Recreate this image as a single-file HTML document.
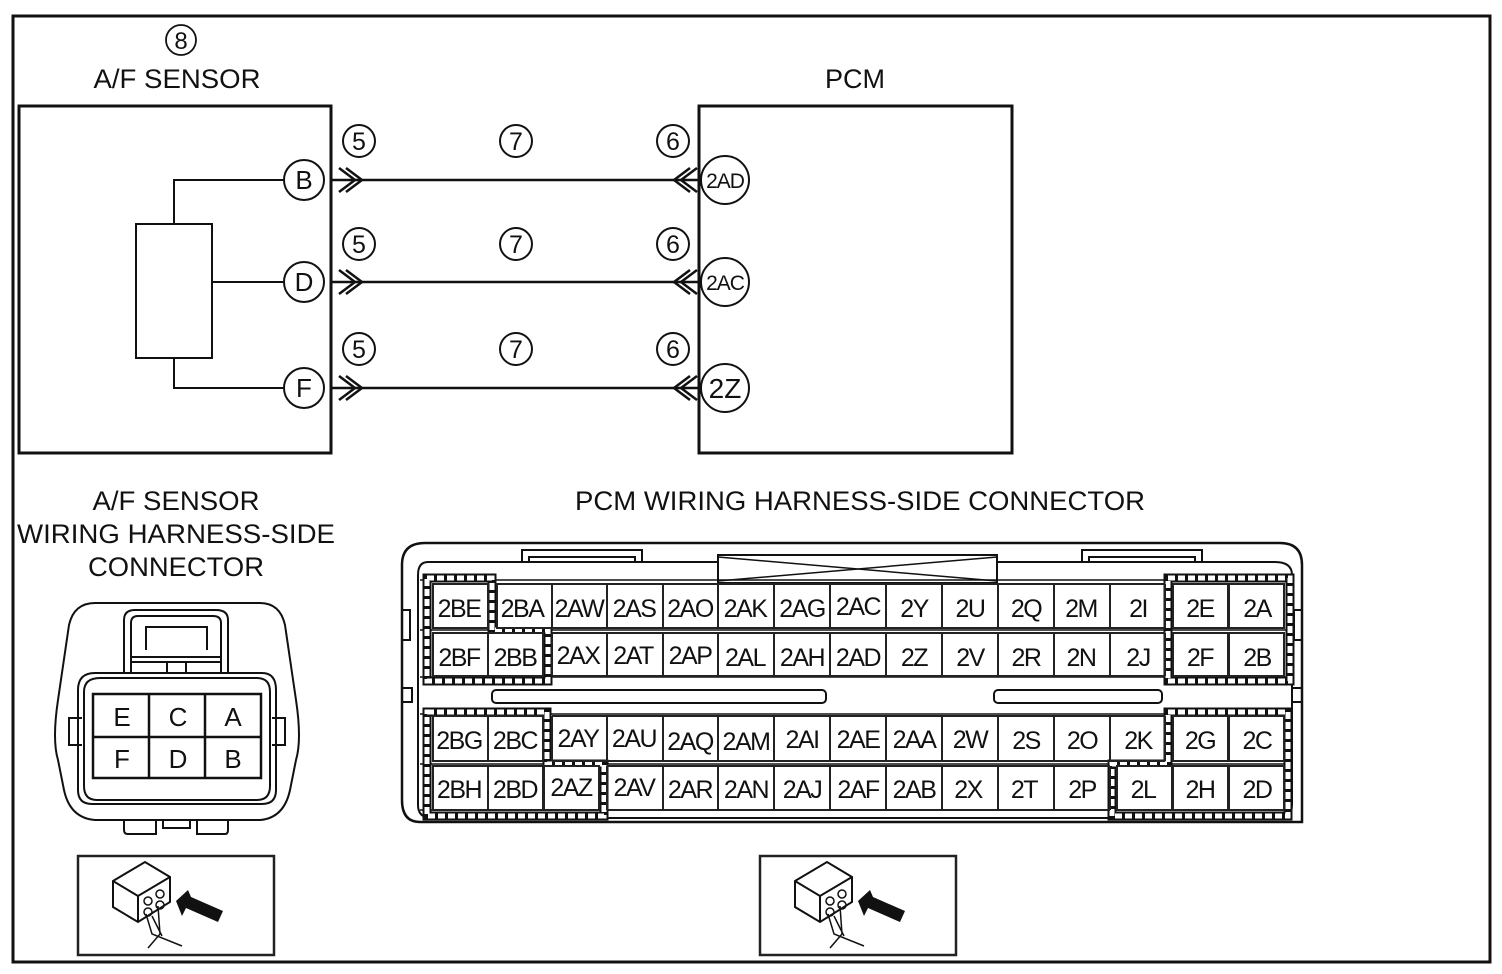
<!DOCTYPE html>
<html><head><meta charset="utf-8"><style>
html,body{margin:0;padding:0;background:#fff;}
svg{display:block;}
text{font-family:"Liberation Sans",sans-serif;fill:#111;}
</style></head><body>
<svg width="1502" height="974" viewBox="0 0 1502 974" xmlns="http://www.w3.org/2000/svg">
<defs>
<g id="icon">
  <rect x="0" y="0" width="196" height="99" fill="#fff" stroke="#222" stroke-width="2.5"/>
  <path d="M35,25 L67,6 L92,21 L92,46 L60,66 L35,51 Z" fill="#fff" stroke="#111" stroke-width="2"/>
  <path d="M35,25 L60,40 L92,21 M60,40 L60,66" fill="none" stroke="#111" stroke-width="2"/>
  <circle cx="70" cy="45" r="4" fill="none" stroke="#111" stroke-width="1.5"/>
  <circle cx="82" cy="38" r="4" fill="none" stroke="#111" stroke-width="1.5"/>
  <circle cx="70" cy="56" r="4" fill="none" stroke="#111" stroke-width="1.5"/>
  <circle cx="82" cy="49" r="4" fill="none" stroke="#111" stroke-width="1.5"/>
  <path d="M68,58 L74,78 L104,90 M80,50 L82,78 L70,92 M74,60 L84,80" fill="none" stroke="#111" stroke-width="1.5"/>
  <path d="M98,45 L110,34 L113,41 L145,55 L140,66 L108,52 L104,60 Z" fill="#111"/>
</g>
</defs>
<rect x="13" y="16" width="1477" height="946" fill="none" stroke="#111" stroke-width="3"/>

<circle cx="181" cy="40" r="15" fill="none" stroke="#111" stroke-width="1.8"/>
<text x="181" y="49" font-size="24" text-anchor="middle">8</text>
<text x="177" y="88" font-size="27" text-anchor="middle" textLength="167" lengthAdjust="spacingAndGlyphs">A/F SENSOR</text>
<text x="855" y="88" font-size="27" text-anchor="middle">PCM</text>

<rect x="19" y="106" width="312" height="347" fill="none" stroke="#111" stroke-width="3"/>
<rect x="136" y="224" width="76" height="134" fill="none" stroke="#111" stroke-width="2"/>
<path d="M174,224 V180 H284 M212,282 H284 M174,358 V388 H284" fill="none" stroke="#111" stroke-width="2"/>
<g stroke="#111" stroke-width="2" fill="#fff">
<circle cx="304" cy="180" r="20"/><circle cx="304" cy="282" r="20"/><circle cx="304" cy="388" r="20"/>
</g>
<text x="304" y="189" font-size="26" text-anchor="middle">B</text>
<text x="304" y="291" font-size="26" text-anchor="middle">D</text>
<text x="304" y="397" font-size="26" text-anchor="middle">F</text>

<rect x="699" y="106" width="313" height="347" fill="none" stroke="#111" stroke-width="3"/>
<g stroke="#111" stroke-width="2" fill="#fff">
<circle cx="725" cy="180" r="24"/><circle cx="725" cy="282" r="24"/><circle cx="725" cy="388" r="24"/>
</g>
<text x="725" y="188" font-size="21" text-anchor="middle" letter-spacing="-1">2AD</text>
<text x="725" y="290" font-size="21" text-anchor="middle" letter-spacing="-1">2AC</text>
<text x="725" y="398" font-size="28" text-anchor="middle">2Z</text>

<g stroke="#111" stroke-width="2.5" fill="none">
<path d="M331,180 H699 M331,282 H699 M331,388 H699"/>
<path d="M339,168 L355,180 L339,192 M346,168 L362,180 L346,192"/>
<path d="M339,270 L355,282 L339,294 M346,270 L362,282 L346,294"/>
<path d="M339,376 L355,388 L339,400 M346,376 L362,388 L346,400"/>
<path d="M690,168 L674,180 L690,192 M697,168 L681,180 L697,192"/>
<path d="M690,270 L674,282 L690,294 M697,270 L681,282 L697,294"/>
<path d="M690,376 L674,388 L690,400 M697,376 L681,388 L697,400"/>
</g>
<g stroke="#111" stroke-width="2" fill="none">
<circle cx="359" cy="141" r="16"/><circle cx="516" cy="141" r="16"/><circle cx="673" cy="141" r="16"/>
<circle cx="359" cy="244" r="16"/><circle cx="516" cy="244" r="16"/><circle cx="673" cy="244" r="16"/>
<circle cx="359" cy="349" r="16"/><circle cx="516" cy="349" r="16"/><circle cx="673" cy="349" r="16"/>
</g>
<g font-size="25" text-anchor="middle">
<text x="359" y="150">5</text><text x="516" y="150">7</text><text x="673" y="150">6</text>
<text x="359" y="253">5</text><text x="516" y="253">7</text><text x="673" y="253">6</text>
<text x="359" y="358">5</text><text x="516" y="358">7</text><text x="673" y="358">6</text>
</g>

<g font-size="27" text-anchor="middle">
<text x="176" y="510" textLength="167" lengthAdjust="spacingAndGlyphs">A/F SENSOR</text>
<text x="176" y="543" textLength="318" lengthAdjust="spacingAndGlyphs">WIRING HARNESS-SIDE</text>
<text x="176" y="576" textLength="176" lengthAdjust="spacingAndGlyphs">CONNECTOR</text>
<text x="860" y="510" textLength="570" lengthAdjust="spacingAndGlyphs">PCM WIRING HARNESS-SIDE CONNECTOR</text>
</g>

<g fill="none" stroke="#111" stroke-width="2">
<path d="M95,603 H260 Q280,603 285,625 L296,700 Q302,740 296,760 L290,790 Q284,818 260,820 H95 Q70,818 64,790 L58,760 Q52,740 58,700 L69,625 Q74,603 95,603 Z"/>
<path d="M82,718 H69 V745 H82 M272,718 H285 V745 H272"/>
<path d="M95,673 H262 Q276,673 276,690 V790 Q276,804 262,804 H92 Q78,804 78,790 V690 Q78,673 95,673 Z"/>
<path d="M100,678 H257 Q270,678 270,692 V786 Q270,800 257,800 H97 Q84,800 84,786 V692 Q84,678 100,678 Z"/>
<path d="M124,673 V620 Q124,610 135,610 H216 Q228,610 228,620 V673"/>
<path d="M131,673 V623 Q131,616 138,616 H213 Q221,616 221,623 V673"/>
<path d="M146,650 V627 H207 V650 M131,657 H221 M131,662 H221 M167,662 V673 M186,662 V673"/>
<rect x="93" y="694" width="168" height="84" stroke-width="2.5"/>
<path d="M149,694 V778 M205,694 V778 M93,737 H261" stroke-width="2.5"/>
<path d="M124,820 V830 Q124,834 128,834 H156 V820 M163,820 V828 H190 V820 M197,820 V834 H225 Q228,834 228,830 V820"/>
</g>
<g font-size="26" text-anchor="middle">
<text x="122" y="726">E</text><text x="178" y="726">C</text><text x="233" y="726">A</text>
<text x="122" y="768">F</text><text x="178" y="768">D</text><text x="233" y="768">B</text>
</g>

<use href="#icon" x="78" y="856"/>
<use href="#icon" x="760" y="856"/>

<g fill="none" stroke="#111" stroke-width="2">
<path d="M425,543 H1280 Q1302,543 1302,565 V822 H420 Q402,822 402,800 V565 Q402,543 425,543 Z" stroke-width="2.5"/>
<path d="M428,562 H1275 Q1292,562 1292,575 V805 Q1292,818 1278,818 H432 Q418,818 418,805 V575 Q418,562 428,562 Z"/>
<path d="M522,562 V550 H642 V562 M529,562 V557 H635 V562"/>
<path d="M1082,562 V550 H1202 V562 M1089,562 V557 H1195 V562"/>
<rect x="718" y="555" width="279" height="28" fill="#fff"/>
<path d="M718,557 L997,581 M718,581 L997,557" stroke-width="1.5"/>
<path d="M402,610 H410 V640 H402 M402,688 H412 V702 H402 M1302,610 H1294 V640 H1302 M1302,688 H1292 V702 H1302"/>
<rect x="492" y="690" width="334" height="13" rx="4"/>
<rect x="994" y="690" width="168" height="13" rx="4"/>
<path d="M420,580 H1290 M420,630 H1290 M420,677 H1290 M420,714 H1290 M420,764 H1290 M420,810 H1290" stroke-width="1.5"/>
</g>
<g fill="none" stroke-linejoin="miter">
<g stroke="#111" stroke-width="9">
<path d="M427,578 H492 V630 H548 V681 H427 Z"/>
<path d="M1168,578 H1290 V681 H1168 Z"/>
<path d="M427,712 H547 V764 H604 V816 H427 Z"/>
<path d="M1168,712 H1288 V816 H1112 V764 H1168 Z"/>
</g>
<g stroke="#fff" stroke-width="5" stroke-dasharray="7 3">
<path d="M427,578 H492 V630 H548 V681 H427 Z"/>
<path d="M1168,578 H1290 V681 H1168 Z"/>
<path d="M427,712 H547 V764 H604 V816 H427 Z"/>
<path d="M1168,712 H1288 V816 H1112 V764 H1168 Z"/>
</g>
</g>
<g fill="#fff" stroke="#222" stroke-width="2">
<rect x="433" y="584" width="55" height="44"/><rect x="497" y="584" width="55" height="44"/>
<rect x="433" y="633" width="55" height="43"/><rect x="488" y="633" width="55" height="43"/>
<rect x="433" y="716" width="55" height="45"/><rect x="488" y="716" width="55" height="45"/>
<rect x="433" y="766" width="55" height="44"/><rect x="488" y="766" width="55" height="44"/><rect x="544" y="766" width="55" height="44"/>
<rect x="1173" y="584" width="55" height="44"/><rect x="1229" y="584" width="55" height="44"/>
<rect x="1173" y="633" width="55" height="43"/><rect x="1229" y="633" width="55" height="43"/>
<rect x="1173" y="716" width="55" height="45"/><rect x="1229" y="716" width="55" height="45"/>
<rect x="1117" y="766" width="55" height="44"/><rect x="1173" y="766" width="55" height="44"/><rect x="1229" y="766" width="55" height="44"/>
</g>
<g stroke="#222" stroke-width="2" fill="none">
<path d="M552,584 V628 M607,584 V628 M663,584 V628 M718,584 V628 M774,584 V628 M830,584 V628 M886,584 V628 M942,584 V628 M998,584 V628 M1054,584 V628 M1110,584 V628 M1165,584 V628"/>
<path d="M552,633 V676 M607,633 V676 M663,633 V676 M718,633 V676 M774,633 V676 M830,633 V676 M886,633 V676 M942,633 V676 M998,633 V676 M1054,633 V676 M1110,633 V676 M1165,633 V676"/>
<path d="M552,716 V761 M607,716 V761 M663,716 V761 M718,716 V761 M774,716 V761 M830,716 V761 M886,716 V761 M942,716 V761 M998,716 V761 M1054,716 V761 M1110,716 V761 M1165,716 V761"/>
<path d="M607,766 V810 M663,766 V810 M718,766 V810 M774,766 V810 M830,766 V810 M886,766 V810 M942,766 V810 M998,766 V810 M1054,766 V810 M1110,766 V810"/>
<path d="M552,584 H1165 M552,628 H1165 M552,633 H1165 M552,676 H1165 M552,716 H1165 M552,761 H1165 M607,766 H1110 M607,810 H1110"/>
</g>
<g font-size="25" text-anchor="middle" letter-spacing="-1.5">
<text x="459" y="617">2BE</text><text x="522" y="617">2BA</text><text x="579" y="617">2AW</text><text x="634" y="617">2AS</text><text x="690" y="617">2AO</text><text x="745" y="617">2AK</text><text x="802" y="617">2AG</text><text x="858" y="615">2AC</text><text x="914" y="617">2Y</text><text x="970" y="617">2U</text><text x="1026" y="617">2Q</text><text x="1081" y="617">2M</text><text x="1138" y="617">2I</text><text x="1200" y="617">2E</text><text x="1257" y="617">2A</text>
<text x="459" y="666">2BF</text><text x="515" y="666">2BB</text><text x="578" y="664">2AX</text><text x="633" y="664">2AT</text><text x="690" y="664">2AP</text><text x="745" y="666">2AL</text><text x="802" y="666">2AH</text><text x="858" y="666">2AD</text><text x="914" y="666">2Z</text><text x="970" y="666">2V</text><text x="1026" y="666">2R</text><text x="1081" y="666">2N</text><text x="1138" y="666">2J</text><text x="1200" y="666">2F</text><text x="1257" y="666">2B</text>
<text x="459" y="749">2BG</text><text x="515" y="749">2BC</text><text x="578" y="747">2AY</text><text x="634" y="747">2AU</text><text x="690" y="750">2AQ</text><text x="746" y="750">2AM</text><text x="802" y="748">2AI</text><text x="858" y="748">2AE</text><text x="914" y="748">2AA</text><text x="970" y="748">2W</text><text x="1026" y="749">2S</text><text x="1082" y="749">2O</text><text x="1138" y="749">2K</text><text x="1200" y="749">2G</text><text x="1257" y="749">2C</text>
<text x="459" y="798">2BH</text><text x="515" y="798">2BD</text><text x="571" y="796">2AZ</text><text x="634" y="796">2AV</text><text x="690" y="798">2AR</text><text x="746" y="798">2AN</text><text x="802" y="798">2AJ</text><text x="858" y="798">2AF</text><text x="914" y="798">2AB</text><text x="968" y="798">2X</text><text x="1024" y="798">2T</text><text x="1082" y="798">2P</text><text x="1143" y="798">2L</text><text x="1200" y="798">2H</text><text x="1257" y="798">2D</text>
</g>
</svg>
</body></html>
